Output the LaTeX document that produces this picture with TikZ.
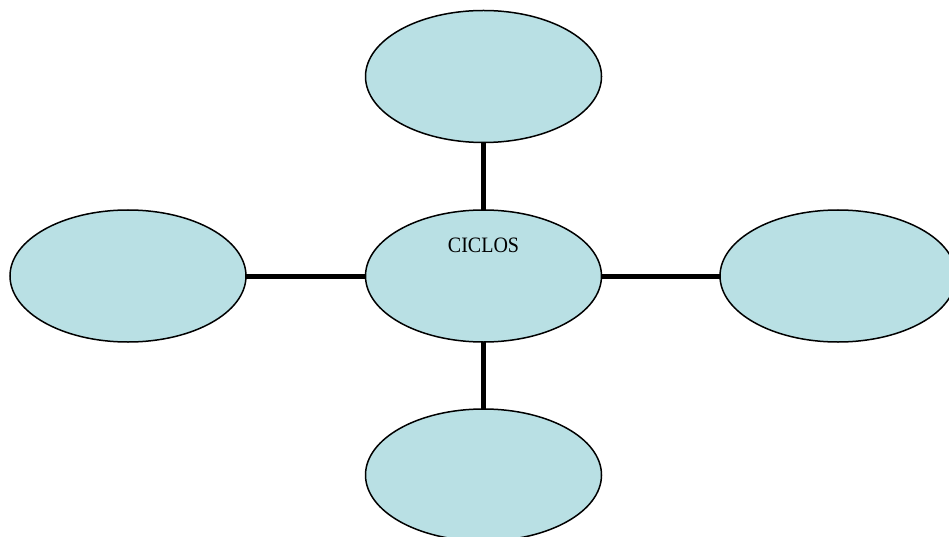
\documentclass[tikz,border=0pt]{standalone}
\usepackage{fontspec}
\setmainfont{Liberation Serif}
\usetikzlibrary{shapes.geometric}
\definecolor{bubble}{RGB}{185,224,228}
\tikzset{
  bub/.style={ellipse, draw=black, line width=1.5pt, fill=bubble,
    minimum width=236pt, minimum height=132pt, inner sep=0pt, outer sep=0pt},
  link/.style={line width=5pt, draw=black},
  lbl/.style={font=\fontsize{20}{22}\selectfont, inner sep=0pt}
}
\begin{document}
\begin{tikzpicture}[x=1pt,y=-1pt]
\useasboundingbox (0,0) rectangle (949,537);
\clip (0,0) rectangle (949,537);
\fill[white] (0,0) rectangle (949,537);
\node[bub] (top) at (483.5,76.5) {};
\node[bub] (mid) at (483.5,276) {};
\node[bub] (left) at (128,276) {};
\node[bub] (right) at (838,276) {};
\node[bub] (bot) at (483.5,475) {};
\draw[link] (top.south) -- (mid.north);
\draw[link] (mid.south) -- (bot.north);
\draw[link] (left.east) -- (mid.west);
\draw[link] (mid.east) -- (right.west);
\node[lbl] (title) at (483.5,245) {\scalebox{1}[1.1]{CICLOS}};
\end{tikzpicture}
\end{document}
